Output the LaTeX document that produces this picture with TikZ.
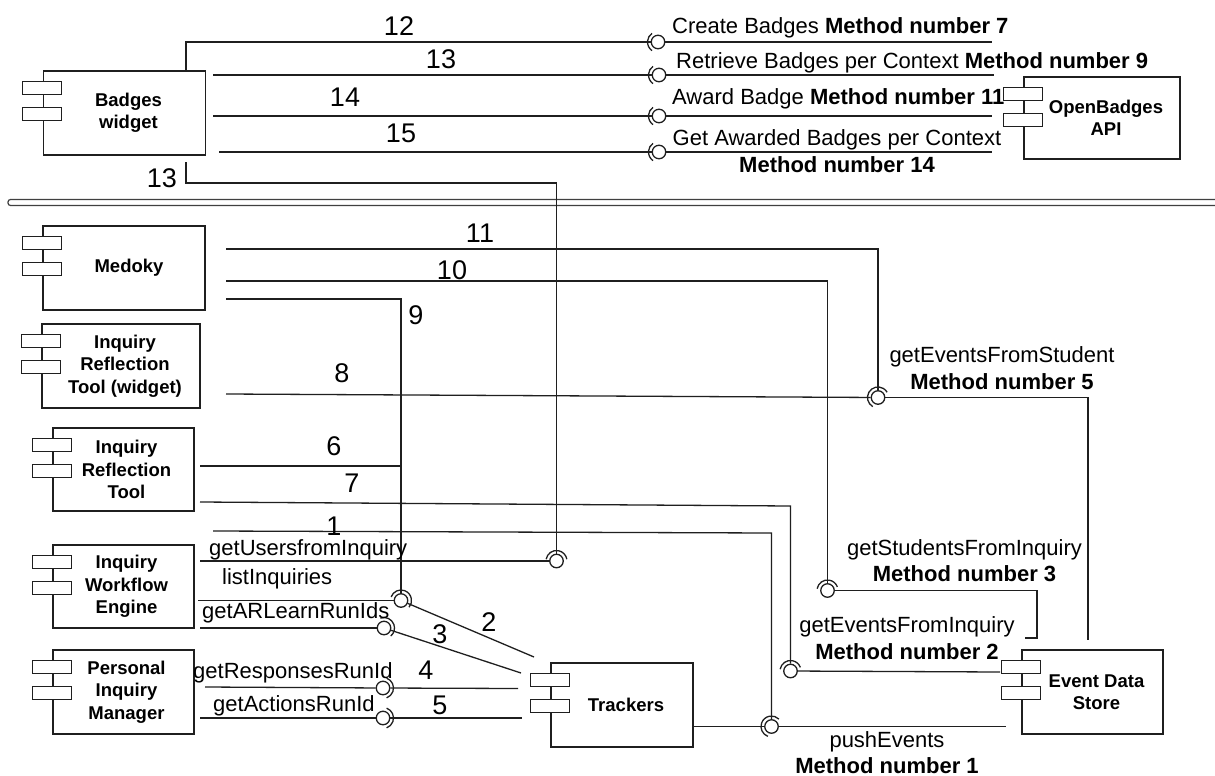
\documentclass[tikz,border=0pt]{standalone}
\usepackage{fontspec}
\setmainfont{Liberation Sans}
\usetikzlibrary{calc}
\newcommand\comptabs[1]{%
  \draw[tab] ($(#1.north west)+(-20,11)$) rectangle ($(#1.north west)+(19,24)$);
  \draw[tab] ($(#1.north west)+(-20,37)$) rectangle ($(#1.north west)+(19,50)$);}
\newcommand\sockarc[3]{%
  \draw[wire] (#1) ++(#2:10.5) arc[start angle=#2, end angle=#3, radius=10.5];}
\begin{document}
\begin{tikzpicture}[x=1pt,y=-1pt,
  wire/.style={line width=1.3pt, black!88},
  comp/.style={draw=black!88, line width=1.5pt, fill=white, align=center, inner sep=0pt,
    font=\fontsize{18.5}{22.5}\selectfont\bfseries},
  tab/.style={draw=black!88, line width=1.3pt, fill=white},
  ball/.style={circle, draw=black!88, line width=1.3pt, fill=white, minimum size=13.5pt, inner sep=0pt},
  num/.style={font=\fontsize{27}{30}\selectfont, inner sep=0pt},
  lbl/.style={font=\fontsize{22}{26.5}\selectfont, inner sep=0pt, align=center}]
\useasboundingbox (0,0) rectangle (1215,776);
\fill[white] (0,0) rectangle (1215,776);

% separator
\draw[line width=1.2pt, black!75, rounded corners=2.5pt] (8,199.5) rectangle (1224,205.5);

% components
\node[comp, minimum width=162pt, minimum height=84pt] (badges) at (124.5,113) {\hspace*{8pt}Badges\\\hspace*{8pt}widget};
\node[comp, minimum width=156pt, minimum height=82pt] (ob) at (1102,118) {\hspace*{8pt}OpenBadges\\\hspace*{8pt}API};
\node[comp, minimum width=162pt, minimum height=84pt] (medoky) at (124,268) {\hspace*{10pt}Medoky};
\node[comp, minimum width=158pt, minimum height=84pt] (irtw) at (121,366) {\hspace*{8pt}Inquiry\\\hspace*{8pt}Reflection\\\hspace*{8pt}Tool (widget)};
\node[comp, minimum width=141pt, minimum height=83pt] (irt) at (123.5,469.5) {\hspace*{6pt}Inquiry\\\hspace*{6pt}Reflection\\\hspace*{6pt}Tool};
\node[comp, minimum width=141pt, minimum height=83pt] (iwe) at (123.5,586.5) {\hspace*{6pt}Inquiry\\\hspace*{6pt}Workflow\\\hspace*{6pt}Engine};
\node[comp, minimum width=141pt, minimum height=84pt] (pim) at (123.5,692) {\hspace*{6pt}Personal\\\hspace*{6pt}Inquiry\\\hspace*{6pt}Manager};
\node[comp, minimum width=142pt, minimum height=84pt] (trackers) at (622,705) {\hspace*{8pt}Trackers};
\node[comp, minimum width=141pt, minimum height=84pt] (eds) at (1092.5,692) {\hspace*{8pt}Event Data\\\hspace*{8pt}Store};
\comptabs{badges}\comptabs{ob}\comptabs{medoky}\comptabs{irtw}\comptabs{irt}
\comptabs{iwe}\comptabs{pim}\comptabs{trackers}\comptabs{eds}

% sockets (balls)
\node[ball] (s7) at (658,42) {};
\node[ball] (s9) at (659,75) {};
\node[ball] (s11) at (659,116) {};
\node[ball] (s14) at (659,152) {};
\node[ball] (s5) at (878,397.5) {};
\node[ball] (s3) at (827.5,590.5) {};
\node[ball] (s2) at (790.5,671) {};
\node[ball] (s1) at (771.5,726.5) {};
\node[ball] (su) at (556.5,561) {};
\node[ball] (sl) at (401,600.5) {};
\node[ball] (sa) at (384,628) {};
\node[ball] (sr) at (383,688) {};
\node[ball] (sc) at (383,718) {};

% free ends and bends
\coordinate (e7) at (992,42);
\coordinate (f13) at (213,75);  \coordinate (e9) at (994,75);
\coordinate (f14) at (213,116); \coordinate (e11) at (992,116);
\coordinate (f15) at (219,152); \coordinate (e14) at (992,152);
\coordinate (f13b) at (186,162); \coordinate (k13) at (556.5,183);
\coordinate (f11) at (226,249); \coordinate (k11) at (878,249);
\coordinate (f10) at (226,281); \coordinate (k10) at (827.5,281);
\coordinate (f9) at (226,299);  \coordinate (k9) at (401,299);
\coordinate (f8) at (226,394);
\coordinate (e5) at (1088,640);
\coordinate (f6) at (200,466);  \coordinate (k6) at (401,466);
\coordinate (f7) at (200,502);  \coordinate (k7) at (790.5,506);
\coordinate (f1) at (213,531);  \coordinate (k1) at (771.5,533);
\coordinate (fu) at (200,561);
\coordinate (fl) at (198,600.5); \coordinate (e2) at (534,657);
\coordinate (fa) at (200,628);  \coordinate (e3) at (521,673);
\coordinate (fr) at (205,687);  \coordinate (er) at (518,688.5);
\coordinate (fc) at (200,718);  \coordinate (ec) at (522,718);
\coordinate (k3a) at (1037,590.5); \coordinate (k3b) at (1037,638); \coordinate (e3b) at (1025,638);
\coordinate (e2b) at (1000,672);
\coordinate (e1) at (1006,726.5);

% connectors
\draw[wire] ([xshift=61.5pt]badges.north) |- (s7);
\draw[wire] (s7) -- (e7);
\draw[wire] (f13) -- (s9);  \draw[wire] (s9) -- (e9);
\draw[wire] (f14) -- (s11); \draw[wire] (s11) -- (e11);
\draw[wire] (f15) -- (s14); \draw[wire] (s14) -- (e14);
\draw[wire] (f13b) |- (k13) -- (su);
\draw[wire] (f11) -- (k11) -- (s5);
\draw[wire] (f10) -- (k10) -- (s3);
\draw[wire] (f9) -- (k9) -- (sl);
\draw[wire] (f8) -- (s5);
\draw[wire] (s5) -| (e5);
\draw[wire] (f6) -- (k6);
\draw[wire] (f7) -- (k7) -- (s2);
\draw[wire] (f1) -- (k1) -- (s1);
\draw[wire] (fu) -- (su);
\draw[wire] (fl) -- (sl);
\draw[wire] (sl) -- (e2);
\draw[wire] (fa) -- (sa);
\draw[wire] (sa) -- (e3);
\draw[wire] (fr) -- (sr); \draw[wire] (sr) -- (er);
\draw[wire] (fc) -- (sc); \draw[wire] (sc) -- (ec);
\draw[wire] (s3) -- (k3a) -- (k3b) -- (e3b);
\draw[wire] (s2) -- (e2b);
\draw[wire] (trackers.east |- s1) -- (s1);
\draw[wire] (s1) -- (e1);

% socket arcs (y axis is flipped: angle -a is visual angle a)
\sockarc{s7}{-235}{-125}
\sockarc{s9}{-235}{-125}
\sockarc{s11}{-235}{-125}
\sockarc{s14}{-235}{-125}
\sockarc{s5}{-240}{-30}
\sockarc{s1}{-250}{-45}
\sockarc{sl}{-160}{40}
\sockarc{su}{-170}{-10}
\sockarc{sa}{-110}{50}
\sockarc{sr}{-70}{70}
\sockarc{sc}{-70}{70}
\sockarc{s3}{-170}{-20}
\sockarc{s2}{-170}{-20}

% numbers
\node[num] (n12) at (399,26) {12};
\node[num] (n13) at (441,59) {13};
\node[num] (n14) at (345,97) {14};
\node[num] (n15) at (401,133) {15};
\node[num] (n13b) at (162,178) {13};
\node[num] (n11) at (480,233) {11};
\node[num] (n10) at (452,270) {10};
\node[num] (n9) at (416,315) {9};
\node[num] (n8) at (342,373) {8};
\node[num] (n6) at (334,446) {6};
\node[num] (n7) at (352,483) {7};
\node[num] (n1) at (334,526) {1};
\node[num] (n2) at (489,622) {2};
\node[num] (n3) at (440,634) {3};
\node[num] (n4) at (426,670) {4};
\node[num] (n5) at (440,705) {5};

% method labels
\node[lbl, anchor=west] (m7) at (672,28) {Create Badges \textbf{Method number 7}};
\node[lbl, anchor=west] (m9) at (676,63) {Retrieve Badges per Context \textbf{Method number 9}};
\node[lbl, anchor=west] (m11) at (672,99) {Award Badge \textbf{Method number 11}};
\node[lbl] (m14) at (837,151) {Get Awarded Badges per Context\\\textbf{Method number 14}};
\node[lbl] (m5) at (1002,368) {getEventsFromStudent\\\textbf{Method number 5}};
\node[lbl] (m3) at (964.5,560.5) {getStudentsFromInquiry\\\textbf{Method number 3}};
\node[lbl] (m2) at (907,638) {getEventsFromInquiry\\\textbf{Method number 2}};
\node[lbl] (m1) at (887,752.5) {pushEvents\\\textbf{Method number 1}};
\node[lbl, anchor=west] (tu) at (209,550) {getUsersfromInquiry};
\node[lbl, anchor=west] (tl) at (222,579) {listInquiries};
\node[lbl, anchor=west] (ta) at (202,613) {getARLearnRunIds};
\node[lbl, anchor=west] (tr) at (193,673) {getResponsesRunId};
\node[lbl, anchor=west] (tc) at (213,706) {getActionsRunId};
\end{tikzpicture}
\end{document}
